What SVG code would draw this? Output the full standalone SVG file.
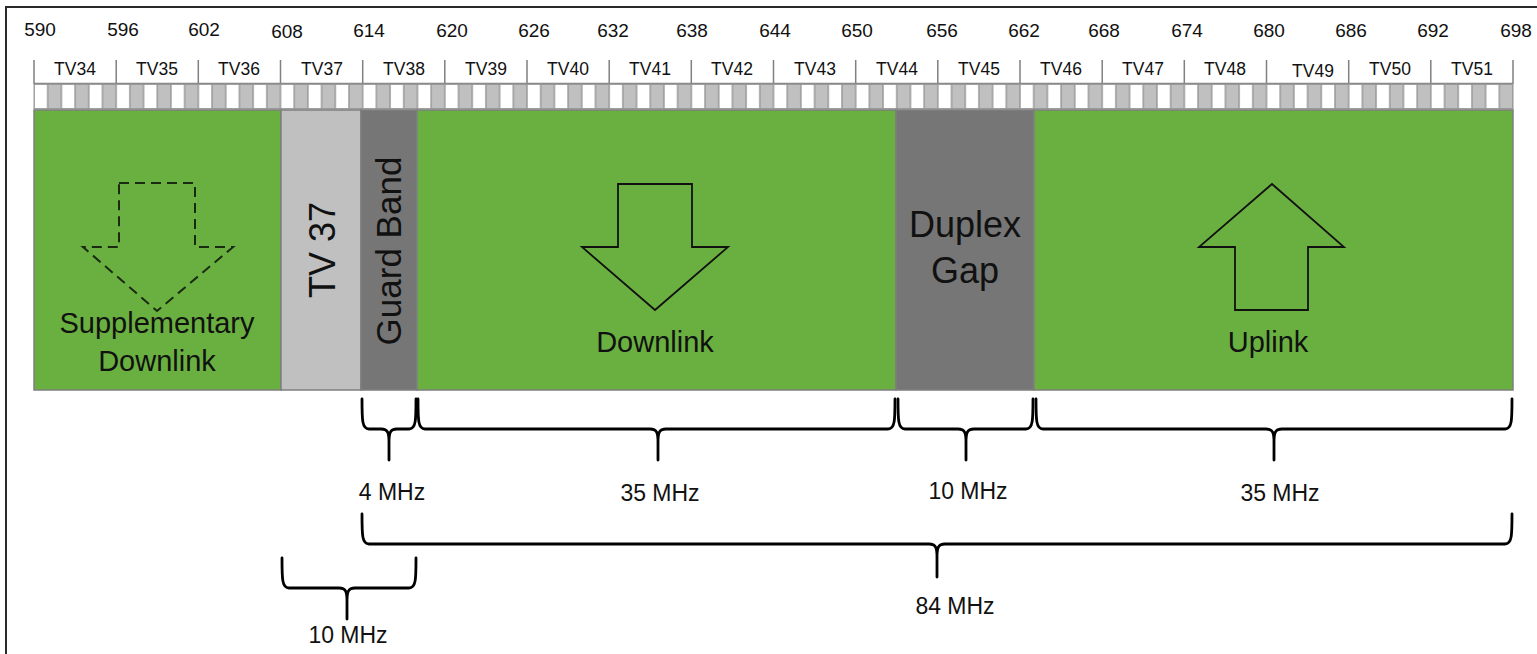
<svg xmlns="http://www.w3.org/2000/svg" width="1537" height="654" viewBox="0 0 1537 654">
<style>
text{font-family:"Liberation Sans",Arial,sans-serif;fill:#111}
.num{font-size:19px;text-anchor:middle}
.tv{font-size:17.5px;text-anchor:middle}
.big{font-size:29px;text-anchor:middle}
.huge{font-size:36px;text-anchor:middle}
.mhz{font-size:23px;text-anchor:middle}
.band{stroke:#7f7f7f;stroke-width:1.5}
.green{fill:#6AB040}
.lgray{fill:#C0C0C0}
.dgray{fill:#767676}
.tick{stroke:#808080;stroke-width:1.5;fill:none}
.arrow{fill:none;stroke:#111;stroke-width:1.8;stroke-linejoin:miter}
.dash{fill:none;stroke:#1a2a10;stroke-width:2;stroke-dasharray:10 6}
.brace{fill:none;stroke:#000;stroke-width:2.8;stroke-linejoin:round;stroke-linecap:round}
</style>
<defs>
<pattern id="cells" patternUnits="userSpaceOnUse" x="34" y="84" width="27.389" height="25">
<rect x="0" y="0" width="27.389" height="25" fill="#959595"/>
<rect x="0.7" y="0.8" width="12.3" height="23.4" fill="#ffffff"/>
<rect x="14.394" y="0.8" width="12.3" height="23.4" fill="#C0C0C0"/>
</pattern>
</defs>
<rect width="1537" height="654" fill="#fff"/>
<g id="frame" stroke="#2a2a2a" stroke-width="2">
<line x1="5" y1="7" x2="1537" y2="7"/>
<line x1="6" y1="7" x2="6" y2="654"/>
</g>
<g id="frequencies">
<text class="num" x="40" y="36">590</text>
<text class="num" x="123" y="36">596</text>
<text class="num" x="204" y="36">602</text>
<text class="num" x="287" y="38">608</text>
<text class="num" x="369" y="37">614</text>
<text class="num" x="452" y="37">620</text>
<text class="num" x="534" y="37">626</text>
<text class="num" x="613" y="37">632</text>
<text class="num" x="692" y="37">638</text>
<text class="num" x="775" y="37">644</text>
<text class="num" x="857" y="37">650</text>
<text class="num" x="942" y="37">656</text>
<text class="num" x="1024" y="37">662</text>
<text class="num" x="1104" y="37">668</text>
<text class="num" x="1187" y="37">674</text>
<text class="num" x="1269" y="37">680</text>
<text class="num" x="1351" y="37">686</text>
<text class="num" x="1433" y="37">692</text>
<text class="num" x="1516" y="37">698</text>
</g>
<g id="channels">
<path class="tick" d="M34,60V84M116.2,60V84M198.3,60V84M280.5,60V84M362.7,60V84M444.8,60V84M527,60V84M609.2,60V84M691.3,60V84M773.5,60V84M855.7,60V84M937.8,60V84M1020,60V84M1102.2,60V84M1184.3,60V84M1266.5,60V84M1348.7,60V84M1430.8,60V84M1513,60V84M34,83.5H1513"/>
<text class="tv" x="75" y="75">TV34</text>
<text class="tv" x="157" y="75">TV35</text>
<text class="tv" x="239" y="75">TV36</text>
<text class="tv" x="322" y="75">TV37</text>
<text class="tv" x="404" y="75">TV38</text>
<text class="tv" x="486" y="75">TV39</text>
<text class="tv" x="568" y="75">TV40</text>
<text class="tv" x="650" y="75">TV41</text>
<text class="tv" x="732" y="75">TV42</text>
<text class="tv" x="815" y="75">TV43</text>
<text class="tv" x="897" y="75">TV44</text>
<text class="tv" x="979" y="75">TV45</text>
<text class="tv" x="1061" y="75">TV46</text>
<text class="tv" x="1143" y="75">TV47</text>
<text class="tv" x="1225" y="75">TV48</text>
<text class="tv" x="1313" y="77">TV49</text>
<text class="tv" x="1390" y="75">TV50</text>
<text class="tv" x="1472" y="75">TV51</text>
</g>
<g id="mhz-cells">
<rect x="34" y="84" width="1479" height="25" fill="url(#cells)" stroke="#959595" stroke-width="1"/>
</g>
<g id="supplementary-downlink">
<rect class="band green" x="34" y="110" width="247" height="280"/>
<polygon class="dash" points="119,183 195,183 195,247 233,247 157,311 83,247 119,247"/>
<text class="big" x="157" y="333">Supplementary</text>
<text class="big" x="157" y="371">Downlink</text>
</g>
<g id="tv37">
<rect class="band lgray" x="281" y="110" width="80" height="280"/>
<text class="huge" transform="translate(335,250) rotate(-90)">TV 37</text>
</g>
<g id="guard-band">
<rect class="band dgray" x="361" y="110" width="56" height="280"/>
<text class="huge" style="font-size:35px" transform="translate(401,251) rotate(-90)">Guard Band</text>
</g>
<g id="downlink">
<rect class="band green" x="417" y="110" width="479" height="280"/>
<polygon class="arrow" points="618,184 692,184 692,247 728,247 655,310 582,247 618,247"/>
<text class="big" x="655" y="352">Downlink</text>
</g>
<g id="duplex-gap">
<rect class="band dgray" x="896" y="110" width="138" height="280"/>
<text class="huge" x="965" y="237">Duplex</text>
<text class="huge" x="965" y="283">Gap</text>
</g>
<g id="uplink">
<rect class="band green" x="1034" y="110" width="479" height="280"/>
<polygon class="arrow" points="1272,184 1344,247 1308,247 1308,310 1235,310 1235,247 1199,247"/>
<text class="big" x="1268" y="352">Uplink</text>
</g>
<g id="connectors">
<path class="brace" d="M362,399C362,420 362,429 369,429H381C388,429 389,433 389,442V460M416,399C416,420 416,429 409,429H397C390,429 389,433 389,442V460"/>
<path class="brace" d="M418,399C418,420 418,429 425,429H650C657,429 658,433 658,442V460M895,399C895,420 895,429 888,429H666C659,429 658,433 658,442V460"/>
<path class="brace" d="M898,399C898,420 898,429 905,429H958C965,429 966,433 966,442V460M1033,399C1033,420 1033,429 1026,429H974C967,429 966,433 966,442V460"/>
<path class="brace" d="M1036,399C1036,420 1036,429 1043,429H1266C1273,429 1274,433 1274,442V460M1512,399C1512,420 1512,429 1505,429H1282C1275,429 1274,433 1274,442V460"/>
<path class="brace" d="M362,514C362,535 362,544 369,544H929C936,544 937,548 937,557V577M1512,514C1512,535 1512,544 1505,544H945C938,544 937,548 937,557V577"/>
<path class="brace" d="M282,558C282,579 282,588 289,588H339C346,588 347,592 347,601V619M416,558C416,579 416,588 409,588H355C348,588 347,592 347,601V619"/>
</g>
<g id="labels">
<text class="mhz" x="392" y="500">4 MHz</text>
<text class="mhz" x="660" y="501">35 MHz</text>
<text class="mhz" x="968" y="499">10 MHz</text>
<text class="mhz" x="1280" y="501">35 MHz</text>
<text class="mhz" x="955" y="614">84 MHz</text>
<text class="mhz" x="348" y="643">10 MHz</text>
</g>
</svg>
